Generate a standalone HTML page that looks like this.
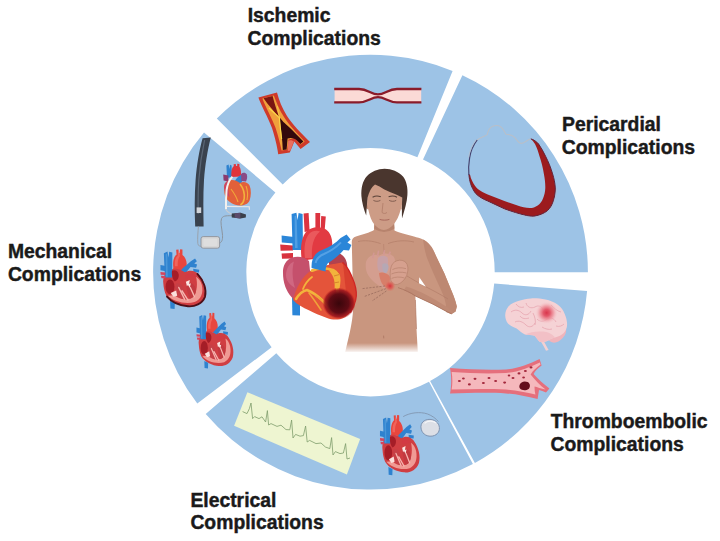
<!DOCTYPE html>
<html><head><meta charset="utf-8"><title>Complications</title>
<style>
html,body{margin:0;padding:0;background:#fff;}
body{width:720px;height:541px;overflow:hidden;font-family:"Liberation Sans",sans-serif;}
svg{display:block;}
text{font-family:"Liberation Sans",sans-serif;font-weight:700;font-size:19.35px;fill:#1a1a1a;stroke:#1a1a1a;stroke-width:.42px;}
</style></head><body>
<svg width="720" height="541" viewBox="0 0 720 541">
<rect width="720" height="541" fill="#fff"/>
<!-- RING -->
<g fill="#9dc3e6">
<path d="M462.4 75.2A217.4 217.4 0 0 1 587.9 272.2L494.7 272.2A124.2 124.2 0 0 0 423.0 159.6Z"/>
<path d="M587.1 291.1A217.4 217.4 0 0 1 474.9 462.9L430.1 381.1A124.2 124.2 0 0 0 494.2 283.5Z"/>
<path d="M472.9 464.0A217.4 217.4 0 0 1 205.7 414.0L276.3 353.2A124.2 124.2 0 0 0 429.0 381.8Z"/>
<path d="M197.3 403.6A217.4 217.4 0 0 1 204.0 132.5L275.4 192.4A124.2 124.2 0 0 0 271.6 347.3Z"/>
<path d="M216.8 118.5A217.4 217.4 0 0 1 452.6 70.9L417.4 157.2A124.2 124.2 0 0 0 282.7 184.4Z"/>
</g>
<!-- LABELS -->
<g id="labels">
<text x="247.7" y="22.4">Ischemic</text><text x="247.5" y="45.3">Complications</text>
<text x="562" y="130.6">Pericardial</text><text x="561.8" y="153.5">Complications</text>
<text x="7.9" y="258.2">Mechanical</text><text x="7.9" y="281.3">Complications</text>
<text x="190.4" y="506.5">Electrical</text><text x="190.4" y="529.4">Complications</text>
<text x="550.7" y="428.1">Thromboembolic</text><text x="550.5" y="451.4">Complications</text>
</g>
<!--ART-->
<defs>
<!-- cross-section heart, drawn in a 451x541 unit box -->
<g id="hx">
<path d="M138 180C132 125 146 95 163 82L160 46L178 44L180 70L188 70L190 42L208 44L208 86C228 100 243 130 240 160L228 215C200 196 170 192 136 200Z" fill="#e8463e"/>
<path d="M150 170C146 130 156 104 172 92L174 60L186 60L188 96C176 112 170 140 172 170Z" fill="#f2706a" opacity=".7"/>
<path d="M183 226C198 184 238 166 272 132L304 112L318 132L298 150L320 158L312 182L270 176C252 198 238 208 230 244Z" fill="#2f82cf"/>
<path d="M290 190L336 196L334 218L292 214Z" fill="#2f82cf"/>
<path d="M296 222L332 228L330 246L298 242Z" fill="#d23a4e"/>
<path d="M62 300C55 250 80 204 130 192C170 184 200 200 226 216C260 196 310 200 340 240C380 290 396 350 381 400C361 452 300 476 250 471C190 466 120 442 85 392C70 362 64 330 62 300Z" fill="#d03e42"/>
<path d="M66 72L94 60L101 104L107 62L131 66L130 255L74 255Z" fill="#2f82cf"/>
<path d="M80 80L92 74L96 250L82 250Z" fill="#5aa3e0" opacity=".6"/>
<path d="M40 160L82 168L82 208L40 200Z" fill="#2f82cf"/>
<path d="M40 214L78 218L78 236L42 234Z M44 242L78 244L78 260L48 260Z" fill="#d6445c"/>
<path d="M96 392C140 436 230 458 300 440C350 422 370 372 356 312C348 282 332 262 312 250C324 300 322 360 292 400C252 430 182 420 150 388Z" fill="#f09a94"/>
<ellipse cx="113" cy="325" rx="34" ry="56" fill="#a51d27"/>
<path d="M128 205C150 195 175 205 180 235C182 260 170 280 150 285C132 270 124 235 128 205Z" fill="#a51d27"/>
<path d="M232 300C262 280 300 300 310 340C316 380 292 410 262 416C250 380 240 340 232 300Z" fill="#c23a40"/>
<path d="M160 300C186 290 210 310 220 350C228 386 236 410 242 422C210 420 176 406 160 386C150 356 150 326 160 300Z" fill="#c64046"/>
<path d="M205 355L250 425M180 330L225 420M268 330L300 400" fill="none" stroke="#f6b6b0" stroke-width="11" stroke-linecap="round"/>
<path d="M234 286L264 274L259 304L272 299L264 332L250 312L242 320Z" fill="#fbe6e2"/>
<path d="M118 372L160 352L168 392L140 400Z" fill="#fbe0dc"/>
<path d="M230 240C250 225 290 225 315 245C300 250 260 255 235 262Z" fill="#d23a44"/>
<path d="M114 430L150 445L148 492L116 488Z" fill="#2f82cf"/>
</g>
<path id="hxrim" d="M322 228C374 282 394 350 380 400C360 452 300 476 250 471C195 466 128 442 90 398" fill="none" stroke="#4d1019" stroke-width="14" stroke-linecap="round"/>
</defs>
<!-- ISCHEMIC: stenosed vessel -->
<g id="stenosis">
<path d="M334.6 89H359C368 89 371 94.2 378 94.2C385 94.2 388 89 397 89H421.2V102.3H397C388 102.3 385 97.3 378 97.3C371 97.3 368 102.3 359 102.3H334.6Z" fill="#fbdad6"/>
<path d="M334.2 89H359C368 89 371 94.4 378 94.4C385 94.4 388 89 397 89H421.4M334.2 102.3H359C368 102.3 371 97.1 378 97.1C385 97.1 388 102.3 397 102.3H421.4" fill="none" stroke="#8a1b2a" stroke-width="2.3"/>
</g>
<!-- ISCHEMIC: plaque artery -->
<g id="plaque">
<path d="M258.4 97.4L277 92.4C279 100 282 108 287 116C292 124 300.5 132.5 310 142L300.6 149L294.3 141.4L289.8 152.4L278.2 154.2C277 145 275 138 272 128C268 117 261.3 106 258.4 97.4Z" fill="#cf3a2a"/>
<path d="M262.4 98.4L273.8 95.4C276.4 102 279.4 110 284 117C289 125 296.6 132.6 304.6 141.4L300.6 144.6L294.6 138L288.4 139.6L287.2 149.6L281.6 150.4C280.2 144 278.6 137 275.6 128C272.2 118.4 265.6 107.4 262.4 98.4Z" fill="#f0a03c"/>
<path d="M263.6 98.2L272.6 96C274.4 103 276.6 110.6 279.4 117.6C274 111.6 268 104.6 263.6 98.2Z" fill="#7a1512"/>
<path d="M279.6 117.4C281.5 119.5 283 121.5 284.6 123C288.5 126.5 294 131.5 303.4 141.6L300.4 144C298 141.4 296.4 139.8 294.2 138.8C291.5 137.6 289.6 138 287.6 138.6L286.6 149.4L282.8 150C282.6 145 282.2 140 281.6 135C281 129 280.2 123 279.6 117.4Z" fill="#33080c"/>
<path d="M288.2 140.8C290.4 139.6 292.4 140.2 293.8 141.6L290.4 150.6L287.8 151Z" fill="#e8705f"/>
<path d="M269 108C272.4 111.4 276 114.6 279.4 117.8C279.8 124 280.6 131 281.6 139" fill="none" stroke="#f8d648" stroke-width="1.2"/>
<path d="M277.4 106C278 110 278.8 114 279.6 117.6" fill="none" stroke="#f6c244" stroke-width="1"/>
</g>
<!-- PERICARDIAL -->
<g id="peri">
<path id="perio" d="M468.9 174.4C469.2 178 469.8 181 470.5 183.3C471.6 187 473.4 190.4 475.5 193.3C479 197 483 199 487.7 201L504.4 208.8C512 211.6 519 213.8 526.6 215.5C530 216.2 533 216.4 535 216C540 215 544 213.4 547.4 210.7C550.4 208 552.4 204.4 553.5 200.2C554.8 196 555.4 192 555.3 187.9C555 183 554 178.4 552.6 173.9C550.8 167.6 548.4 161.8 545.6 156.3C543.6 152 541.2 147.8 538.6 144C536.4 141.4 533.6 139.6 530.7 138.8C532.4 140.4 533.8 142.2 535 144C537 148 538.4 152 539.5 156.3C541.4 162 543 168 543.9 173.9C544.8 178.6 545.4 183.4 545.3 187.9C545.2 191.6 544.4 195.2 543 198.4C541.8 201.4 540 203.8 537.7 205.4C535.4 207 532.6 208 529.8 208C525.6 207.8 521.4 206.6 517.5 205.4L504.4 201L487.7 194.4C484 192.8 480.6 191.2 477.8 188.9C475.4 186.8 473.6 184 472.2 181C471.2 179 470.4 176.8 470 174.4Z" fill="#9c1b1e"/>
<path d="M468.9 174.4C469.2 178 469.8 181 470.5 183.3C471.6 187 473.4 190.4 475.5 193.3C479 197 483 199 487.7 201L504.4 208.8C512 211.6 519 213.8 526.6 215.5C530 216.2 533 216.4 535 216C540 215 544 213.4 547.4 210.7C550.4 208 552.4 204.4 553.5 200.2C554.8 196 555.4 192 555.3 187.9C555 183 554 178.4 552.6 173.9C550.8 167.6 548.4 161.8 545.6 156.3C543.6 152 541.2 147.8 538.6 144C536.4 141.4 533.6 139.6 530.7 138.8" fill="none" stroke="#62233a" stroke-width="1"/>
<path d="M474.6 194.2C478.4 198 482.6 200.2 487.2 202.2L504 210C511.6 212.8 518.8 215 526.4 216.7C530 217.4 533.2 217.6 535.4 217.2C540.6 216.2 544.8 214.4 548.2 211.6C551.4 208.8 553.6 205 554.7 200.6C556 196.2 556.6 192 556.5 187.8" fill="none" stroke="#b4bccb" stroke-width="0.8" opacity=".8"/>
<path d="M477.2 140C480 137.6 484 136.6 487.2 134.6C488 130.6 489.6 127.4 492.7 126.2C495.6 125.2 498.6 125.4 500.5 126.6C503.4 128.4 504 131.6 506 134.2C509.4 134.4 513 135.6 514.9 137.7C517 140 518.4 143.4 521.5 143.4C524.6 143.2 527.4 139.8 530.7 138.8" fill="none" stroke="#b9bfc8" stroke-width="1.1"/>
<path d="M477.2 140C473.4 145 470.6 151 469.6 158C468.6 164 468.4 170 468.9 175" fill="none" stroke="#464470" stroke-width="1.2"/>
<path d="M476.2 139.6C472.4 144.6 469.6 150.6 468.6 157.6" fill="none" stroke="#b9bfc8" stroke-width="0.7"/>
</g>
<!-- THROMBOEMBOLIC: brain -->
<defs>
<radialGradient id="stroke1" cx="0.5" cy="0.5" r="0.5"><stop offset="0" stop-color="#d9364c"/><stop offset="0.3" stop-color="#e35a6c"/><stop offset="0.6" stop-color="#ee929c" stop-opacity=".8"/><stop offset="1" stop-color="#f6d3d6" stop-opacity="0"/></radialGradient>
</defs>
<g id="brain">
<path d="M539.5 339C541.6 343 544.4 347.4 546 350.8L548.6 350C546.8 346.6 544.8 343.6 543.6 340.6Z" fill="#f3d0d2"/>
<path d="M543 330C545 336 548 341.6 553 342.6C558 343 563 339 565.4 334C567 330 566 326 563 324Z" fill="#f0b4bb"/>
<path d="M505.2 315.2C505.4 311.6 506.6 308.8 508.2 306.8C511 303.6 515 301.8 519 300.8C523 299.4 527 298.6 531 298.4C536 298.2 541 298.6 545.5 299.6C550 300.6 554 302.2 557.5 304.4C561 307 563.4 310.2 564.7 314C566.2 317.4 567.2 321 567.1 324.9C567 328 565.6 331 563.5 333.3C561 335.6 558 337 555 337.4C551.6 338.2 549 340 546 341.4C543.4 342.4 541.6 342.4 539.5 341.7C537.6 340 536.4 337.6 534.7 335.7C531.6 335 528 335.2 525 334.5C521.8 333 519.2 330.6 516.6 328.5C513.6 327.2 510.6 325.8 508.2 323.7C506.2 321.4 505.2 318.4 505.2 315.2Z" fill="#f5d2d5"/>
<path d="M525 334.5C530 332 537 331 543 331.6C548 332 552 334 555 337.4C551.6 338.2 549 340 546 341.4C543.4 342.4 541.6 342.4 539.5 341.7C537.6 340 536.4 337.6 534.7 335.7C531.6 335 528 335.2 525 334.5Z" fill="#f1bcc2" opacity=".8"/>
<g fill="none" stroke="#e6a3ad" stroke-width="0.75">
<path d="M511 312C515 309 519 310 522 313C525 316 529 315 531 311"/>
<path d="M515 322C519 320 523 322 526 325C529 328 533 327 535 323"/>
<path d="M526 303C527 307 531 309 535 307C538 305 542 306 543 310"/>
<path d="M537 319C540 322 544 322 547 319C550 317 554 318 556 322"/>
<path d="M551 305C554 308 557 311 561 312"/>
<path d="M520 316C522 319 526 319 529 318"/>
<path d="M542 327C545 329 549 330 552 329"/>
<path d="M516 304C518 307 521 308 524 307"/>
<path d="M533 313C535 317 536 321 535 325"/>
<path d="M556 326C559 327 562 326 564 324"/>
</g>
<circle cx="546.6" cy="312.8" r="11.5" fill="url(#stroke1)"/>
</g>
<!-- THROMBOEMBOLIC: vessel -->
<g id="vessel">
<path d="M450 368C470 369.6 490 370 506 369.4C518 368.6 529 364 539.6 359L541.6 365.6C538 368 535 371 533.6 374C538 379 543.6 384 549.4 388.4L546 392.4C543.6 391.6 541 390.6 539 390L537.6 399C527 396.6 516 394 506 393.4C490 392.4 470 392.8 450 393.6C451.6 386 451.6 376 450 368Z" fill="#e56f7c"/>
<path d="M451.6 372C470 373.4 490 373.8 506 373C518 372 529 367.6 539.8 362.4L540.6 364.6C536.6 367.6 532.6 371 530.6 374.4C535 380 540 385 545.6 389.6C541 388.4 537 387 534.6 386.4C534.4 389 534.8 392 535.4 394.6C526 392.4 516 390.2 506 389.6C490 388.8 470 389 451.6 389.6C452.6 384 452.6 378 451.6 372Z" fill="#f5b8bc"/>
<g fill="#a3283c">
<ellipse cx="459.4" cy="381" rx="1.5" ry="1.1"/><ellipse cx="463.4" cy="378.4" rx="1.4" ry="1"/><ellipse cx="469.4" cy="384.4" rx="1.5" ry="1.1"/><ellipse cx="475" cy="378.8" rx="1.5" ry="1.1"/><ellipse cx="483.4" cy="383" rx="1.5" ry="1.1"/><ellipse cx="489" cy="378" rx="1.5" ry="1.1"/><ellipse cx="495.6" cy="381" rx="1.5" ry="1.1"/><ellipse cx="504.6" cy="382.6" rx="1.5" ry="1.1"/><ellipse cx="513" cy="378" rx="1.5" ry="1.1"/><ellipse cx="519" cy="373.4" rx="1.5" ry="1.1"/><ellipse cx="525.4" cy="371" rx="1.5" ry="1.1"/><ellipse cx="531" cy="367.4" rx="1.5" ry="1.1"/><ellipse cx="523.6" cy="377.6" rx="1.4" ry="1"/><ellipse cx="509" cy="375.6" rx="1.3" ry="1"/>
</g>
<path d="M519.6 385C520.6 381.6 524.6 380.6 527.6 382C530.4 383.4 530.6 387 528.6 389C526 391 521.6 390.6 520 388.6C519.2 387.4 519.2 386.2 519.6 385Z" fill="#640d1c"/>
</g>
<!-- ELECTRICAL: ECG strip -->
<g id="ecg">
<path d="M247.4 392.3L360.1 439L346.9 474.6L234.1 425.8Z" fill="#eef5d1"/>
<path d="M242.6 411.6L247 413.6L249.4 408.6L251 403L252.6 418.6L254.6 416.6L259 418.6L262 416.8L265.6 422L267.4 410.6L268.6 425L271 423.6L277 426.4L281 425.2L286 429.6L289.8 429.8L291.6 420L293 438L295.6 434.4L300 436.2L303.4 435.6L305.6 426L307.2 442L309.6 440.4L316 443.6L321 443L325.4 447L329.8 448.6L331.6 437.6L333 455L335.4 451.6L340 453.6L343.4 453L345.6 443.6L347 459L350 458" fill="none" stroke="#7f9d6c" stroke-width="0.8"/>
</g>
<!-- ELECTRICAL: heart + pacemaker -->
<g id="pacer">
<path d="M403.2 416.6C410 412.6 420 411.4 427.6 414C432 415.6 436 418.6 438.4 421.6" fill="none" stroke="#8196b0" stroke-width="0.9"/>
<path d="M421 428C420.4 423 424 419.6 429 419.4C434.6 419.2 439 422.6 439.4 427.6C439.8 432.6 436 436 431 436.2C425.6 436.4 421.6 433 421 428Z" fill="#dcdfe6" stroke="#7e93b1" stroke-width="1"/>
<path d="M424.6 423.4C427 420.6 433 420.4 436 423" fill="none" stroke="#f4f5f8" stroke-width="1.2"/>
</g>
<use href="#hx" transform="translate(375.4 409.4) scale(0.1143 0.1337)"/>
<!-- MECHANICAL: cannula -->
<g id="cannula">
<path d="M202.6 138.2L210.8 137.4C207.6 150 205 165 204 180C203 196 203.4 212 203.6 226.4L195.2 226.6C194.6 212 194.4 196 195.6 180C196.8 165 199.2 150 202.6 138.2Z" fill="#39424e"/>
<path d="M204.6 140C202 152 199.8 166 198.8 180C198 192 198 204 198.2 214" fill="none" stroke="#5a6675" stroke-width="1.2"/>
<rect x="196.6" y="207.4" width="4.6" height="5.6" fill="#cfd3d8"/>
<path d="M198.4 226.6C198 232 197.4 238 197.8 243.4C198.2 246 200 246.6 201.6 246.4" fill="none" stroke="#9aa3ad" stroke-width="1"/>
</g>
<!-- MECHANICAL: controller + wire -->
<g id="controller">
<rect x="201" y="236.6" width="18.6" height="11.6" rx="2.2" fill="#d6d6d6" stroke="#8c9198" stroke-width="0.9"/>
<rect x="203.4" y="238.8" width="13.8" height="7.2" rx="1" fill="#dedede"/>
<path d="M219.6 243C222.6 242 222.8 238 222.4 234C222 229 220 222 221.6 218.4C223.4 215 228 216 232.4 215.6" fill="none" stroke="#8c959f" stroke-width="1"/>
<path d="M231.6 213.4L240.6 212.8L246 214.4L245.8 217.4L240.4 218.6L231.8 217.6Z" fill="#3a3f4a"/>
<path d="M234.6 213.2L240.4 212.8L240.4 218.4L234.8 217.8Z" fill="#5b4a6a"/>
</g>
<!-- MECHANICAL: small external heart w/ catheter -->
<g id="hsmall">
<path d="M226.4 165.6L228.6 164.6L229.4 169L230 164.8L231.6 165.4L232 177L227 178Z" fill="#2f82cf"/>
<path d="M223.2 174.6L228.4 175.4L228.4 181.4L223.6 180.6Z" fill="#8c3a6e"/>
<path d="M231.4 177C231 171 232 167.6 233.8 166L233.6 164.2L235.8 164L236 166L237.2 166L237.2 163.8L239.4 164L239.4 166.6C241 169 241.4 172.6 240.8 176.4Z" fill="#e0343c"/>
<path d="M234.2 183C235.6 178.4 238.6 176.4 241.6 174.6L244.6 176.6C243 179.6 241.6 181.6 240.8 184.6Z" fill="#2f82cf"/>
<path d="M241 174C243 172.2 245.6 172.4 246.8 174.6C247.6 177 247 179.6 246 181.4L241.4 181Z" fill="#8a4a86"/>
<path d="M224 188C223.6 183 227 180 231.6 180C235.6 180 238 181.6 240 183C243 181 247.6 181.6 249.6 185.6C251.4 190 251.2 196 249.6 200.6C248 204.4 243.6 205.8 239.6 205.6C233.6 205.2 228.2 202 225.6 197C224.2 194 224.2 191 224 188Z" fill="#e2603a"/>
<path d="M240 184C243.2 188 244.8 193 244.2 198.6C243.8 201.4 242.4 203.8 240.4 205" fill="none" stroke="#f2b23c" stroke-width="1.6"/>
<path d="M231 189C234 193 236.6 197 238 202M246 186C247.6 190 248 195 247 200" fill="none" stroke="#f2a83a" stroke-width="1.1"/>
<path d="M224.2 188C224.4 184 226 181.6 228.6 180.6C228 186 228.2 192 229.6 197.6C227 195 224.6 192 224.2 188Z" fill="#c8456a"/>
<path d="M232.4 176.6C229.6 179.6 227.4 184 226.6 190C226 197 225.8 203 226 209.2" fill="none" stroke="#f3f1ef" stroke-width="2"/>
<path d="M226 209.2C226.4 211 228.6 212.8 231.6 214" fill="none" stroke="#c9ccd2" stroke-width="1.2"/>
<path d="M226.4 206.4L249.2 206.8L249.4 209.8" fill="none" stroke="#ebe9e9" stroke-width="1.1"/>
</g>
<!-- MECHANICAL: two cross-section hearts -->
<use href="#hx" transform="translate(155.2 243.6) scale(0.131 0.133)"/>
<use href="#hxrim" transform="translate(155.2 243.6) scale(0.131 0.133)"/>
<use href="#hx" transform="translate(192.2 307.6) scale(0.1065 0.124)"/>
<!-- CENTER: man -->
<defs>
<linearGradient id="fadeb" x1="0" y1="0" x2="0" y2="1"><stop offset="0" stop-color="#fff" stop-opacity="0"/><stop offset="1" stop-color="#fff"/></linearGradient>
<radialGradient id="pain" cx="0.5" cy="0.5" r="0.5"><stop offset="0" stop-color="#d8323c"/><stop offset="0.5" stop-color="#dd5a52" stop-opacity=".8"/><stop offset="1" stop-color="#e07a68" stop-opacity="0"/></radialGradient>
</defs>
<g id="man">
<!-- torso + arm silhouette -->
<path d="M374.6 221L374 230C370 232.5 362 234.5 356 236.5C353 237.5 351.5 239 351.8 243L353.3 306C353 318 350.5 330 348 340L345.2 352L417.8 352L416.5 329L415.4 296L433 304.2L446 311.2L451.5 313.8L455.6 311.5L456.8 306.5C455.6 301 454 296.6 452 292L444.3 273.3L436 256C434 251 432.4 247.6 430 245C428 242.4 425.6 240.6 423 239.5C420 238 417 237.4 414 236.5C407 234.5 398 232.5 394.5 230.5L394 221Z" fill="#c9967f"/>
<!-- upper arm shading -->
<path d="M423 239.5C428 242 431.6 246 436 256L444.3 273.3L452 292C454 296.6 455.6 301 456.8 306.5L455.6 311.5L451.5 314.2L446 312C447 306 445 298 441 290C436 279 431 268 427 258C425 252 424 246 423 239.5Z" fill="#bd8872"/>
<!-- forearm shading -->
<path d="M415.4 296L433 304.2L446 311.2L451.5 313.8L453.6 312C446 306 437 300.6 428 295.8C420 291.6 412 288.4 406 286.6L404 290.6Z" fill="#bf8a74"/>
<path d="M407 276C412 279 418 282.6 425.8 286.8C432 290 440 294 448 299" fill="none" stroke="#b27c68" stroke-width="0.7"/>
<path d="M398 287.6C404 289.6 411 292.6 415.4 296L433 304.2L446 311.2L451.5 313.8" fill="none" stroke="#a8725e" stroke-width="0.8"/>
<!-- white gap between arm and chest -->
<path d="M419.3 277.3L425.8 286.8L418.9 283.2Z" fill="#fff"/>
<!-- neck shadow -->
<path d="M374.6 221L374.2 228.6C380 233 388 233 394.4 228.6L394 221Z" fill="#b7836d"/>
<!-- collar bones -->
<path d="M358 241.6C364 240 372 240.6 380.6 243.6M388 243.6C396 240.4 406 240 414 242" fill="none" stroke="#b5806b" stroke-width="0.8"/>
<path d="M383.6 244L384 252" fill="none" stroke="#b5806b" stroke-width="0.6"/>
<!-- chest translucent heart -->
<g opacity=".62">
<path d="M366 262C368 256 374 253.6 379.6 255.4C384 252.6 390 253 393.6 256.6C396 260 396 266 394 272C392 279 389 285 385.6 289C378 286 370 280 367 273C365.6 269 365.4 265 366 262Z" fill="#dba39a"/>
<path d="M378 258C381 255 385 255 387.6 257.6C388.6 262 388 268 386.4 272.6C383 273 380 272 378 270C377 266 377 262 378 258Z" fill="#c7a9c0"/>
<path d="M382.4 264C385 262.6 387.6 263.6 388.6 266C388.6 269.6 387.6 272 385.6 273.4C383.4 272.6 382 270 382.4 264Z" fill="#a9b4d6"/>
<path d="M372.6 258L374 252.6M377.6 256L378.6 250.6M383.6 254.6L384.6 250M388.6 255.6L390.4 251.6" fill="none" stroke="#d99aa0" stroke-width="1.6"/>
<path d="M379 273C382 271.6 386.6 272.6 389.6 276C390.6 280 389.6 284.6 386.6 288C383 286 380 282 379 273Z" fill="#e0705c"/>
</g>
<!-- hand -->
<path d="M391.4 266C392.6 262.6 396 260.4 399.6 260.2C403 260 406 261.6 407.2 264.6C408.4 268 408 272 406.6 275.6C405 279.6 401.6 283 397.6 284.4C394.6 285.2 392 283.6 391 281C389.6 276 390 270 391.4 266Z" fill="#d6a08e" stroke="#b27c68" stroke-width="0.6"/>
<path d="M392.4 269.6C396 267.6 401 267.2 406 268.6M391.4 274C395.6 272 401 271.6 406.6 273M391.6 278.4C395 276.8 400 276.6 404.6 278" fill="none" stroke="#b27c68" stroke-width="0.6"/>
<!-- pain spot + radiating lines -->
<circle cx="390" cy="286" r="5.6" fill="url(#pain)"/>
<path d="M386 288.6L364 296.6M385 286L362.6 288.6M386.4 291L372 301" fill="none" stroke="#8a5e52" stroke-width="0.6" stroke-dasharray="2.2 1.2"/>
<!-- belly / chest lines -->
<path d="M383.6 335.6L383.8 338.4" fill="none" stroke="#a9745f" stroke-width="0.8"/>
<path d="M415.4 300C415.8 310 416 320 416.5 329" fill="none" stroke="#b5806b" stroke-width="0.7"/>
<!-- fade at bottom -->
<rect x="343" y="343" width="78" height="10" fill="url(#fadeb)"/>
<!-- head: face -->
<path d="M367.2 196C366 192 366 186 368 182L401 182C403 186 403.2 192 402.4 196C402.8 201 402 206 400.6 210C399 216 396.6 221 393.6 224.4C391 227.4 387.6 229.8 383.8 230C380 229.8 377 227.6 374.4 224.6C371.6 221 369.6 216 368.4 210C367.4 206 367 201 367.2 196Z" fill="#cd9c86"/>
<!-- ears -->
<path d="M367.4 201.6C365.6 200.6 364.6 202.6 365 205C365.4 207.6 366.8 209.6 368.4 209.4Z M402.2 201.6C404 200.6 405 202.6 404.6 205C404.2 207.6 402.8 209.6 401.2 209.4Z" fill="#c48f79"/>
<!-- hair -->
<path d="M366.2 215.6C364 210 361.8 202 361.4 196C361 188 362.6 181 366.6 176.4C371 171.6 378 169 384.6 168.8C391.6 169 398.6 171.6 403 176.4C406.6 181 408 188 407.4 195C407 202 404.6 210 402 218.6C401.8 212 402 204 402.2 197.4C400 196 397.6 195 395.5 194.2C391.6 192.6 388 191 384.4 189.4C381 187.6 378 185.6 375 184.6C373 186 371.6 188 370.4 190C369.2 192.4 368.2 195 367.6 197.4C367 203 366.6 209 366.2 215.6Z" fill="#4a362e"/>
<!-- brows / eyes / nose / mouth -->
<path d="M372.6 197.2C375 195.8 378.4 195.8 380.8 196.8M388.6 196.8C391 195.8 394.6 195.8 397 197.2" fill="none" stroke="#5a4238" stroke-width="1.1"/>
<path d="M373.4 200.4C375.4 201.6 378.4 201.6 380.4 200.4M389.2 200.4C391.2 201.6 394.2 201.6 396.2 200.4" fill="none" stroke="#6e4e42" stroke-width="0.8"/>
<path d="M383 203L382 212.4C383 213.8 386 213.8 387 212.4" fill="none" stroke="#b07c68" stroke-width="0.8"/>
<path d="M379.6 219.4C382.4 220.4 386.6 220.4 389.4 219.4" fill="none" stroke="#a8685c" stroke-width="1"/>
</g>
<!-- CENTER: anatomical heart -->
<defs>
<radialGradient id="infarct" cx="0.5" cy="0.5" r="0.5"><stop offset="0" stop-color="#39060b"/><stop offset="0.6" stop-color="#5f0b14"/><stop offset="0.86" stop-color="#9a141d" stop-opacity=".85"/><stop offset="1" stop-color="#c8281f" stop-opacity="0"/></radialGradient>
</defs>
<g id="bigheart">
<!-- IVC -->
<path d="M292 297L300 299L300 315.6L292.4 315.2Z" fill="#2b86d8"/>
<!-- left side vessels -->
<path d="M281.6 235.4L294 237L294 243.6L281.8 242.4Z" fill="#2b86d8"/>
<path d="M280.2 244.6L293 245.4L293 250.6L280.6 250.8Z M281.6 253.4L293 253L293 258.4L282 258.8Z" fill="#d8323e"/>
<!-- SVC -->
<path d="M291.6 214L296.4 212.8L297.6 220L298.6 213L302.6 214L303 250L292.6 250Z" fill="#2b86d8"/>
<path d="M294.6 216L296.6 215.6L297.6 248L295 248Z" fill="#5fa8e8" opacity=".7"/>
<!-- aortic branches -->
<path d="M303.6 213.4L308.6 213L309.6 231L304.6 232Z M315.4 213L320.2 213L320 229L315.4 229.6Z M321.2 216L325.8 216.6L324.6 231L320.6 230Z" fill="#dc3440"/>
<!-- aorta -->
<path d="M302 262C300 250 301 238 306 232C311 226.6 320 226 326 229.6C331 233 333 240 332 248L328 262C320 258 310 258 302 262Z" fill="#e23a42"/>
<path d="M305 258C303.6 248 305 239 309 234C312 230.6 317 230 320 231.6C314 236 311 246 312 258Z" fill="#ee6668" opacity=".7"/>
<!-- right atrium -->
<path d="M283 273C282.6 266 286 260 292 257.6C298 255.6 305 257 309 261L312 290L300 304C294 301 288 294 285.4 287C283.6 282 283 277 283 273Z" fill="#c5506c"/>
<path d="M286 276C286 269 289 263.6 294 261.6C292 268 292 278 295 288C290 285 286.4 281 286 276Z" fill="#d4708a" opacity=".7"/>
<!-- left atrial appendage -->
<path d="M328 256C332 252.6 338 252 342 255C346 258 348 264 347 270L330 272Z" fill="#b2424e"/>
<!-- ventricles -->
<path d="M293 300C296 288 302 276 312 270C322 265 334 264 342.5 262.4C347 266 351 274 354.2 283C356.4 290 356.6 296 355.5 300C354 306 352 310 350.3 312.6C347.6 316 344 318.4 340 319.2C335 320 331 319.4 327 318C320 315.6 314 313 308.9 310.3C303 307.6 297 304.6 293 300Z" fill="#e4543a"/>
<path d="M342.5 262.4C347 266 351 274 354.2 283C356.4 290 356.6 296 355.5 300C354 306 352 310 350.3 312.6" fill="none" stroke="#cf2424" stroke-width="1.6"/>
<path d="M343 263C347 267 351 275 354 283C356 290 356.4 296 355.4 300C354 306 352 310 350.3 312.6C346 300 345 280 343 263Z" fill="#d43a2c" opacity=".8"/>
<!-- fat streaks -->
<path d="M296 299C299 294 303 291 307 290C312 292 318 296 323 301C327 305 330 309 333 313" fill="none" stroke="#f2b33c" stroke-width="2.6" stroke-linecap="round"/>
<path d="M312 270.6C318 268 326 268 333 270C337 272 338.6 276 338 281C337.6 285 337 289 337.6 293" fill="none" stroke="#f2b33c" stroke-width="2.8" stroke-linecap="round"/>
<path d="M303 289C305 284 308 280 312 277" fill="none" stroke="#f2b33c" stroke-width="1.8" stroke-linecap="round"/>
<path d="M329 270.6C333 269.6 337.6 271 339.6 274.6C341 278 340.6 283 339.6 288L334.6 288.6C335 283 334.6 277 329 270.6Z" fill="#f2b33c"/>
<path d="M334 276L339 274.6M333.6 283L339 282" fill="none" stroke="#d8842c" stroke-width="1"/>
<path d="M309 293C313 298 317 304 321 310M316 296C321 299 326 303 329 308" fill="none" stroke="#f0a23a" stroke-width="1.6" stroke-linecap="round"/>
<!-- pulmonary artery -->
<path d="M311.6 268C311 259 315 252.6 322 250C329 247.4 335.6 243.6 340.6 238L346.6 234.4L350.6 239.4L347.4 242.4L351.4 245L349 250.4L343.6 250C338.6 256 332.6 260 327.6 263.6C326 266 325.6 269 325.6 271.6Z" fill="#2b86d8"/>
<path d="M315.6 263C316.6 258 320 255.6 324 254C330 251.4 336 247.6 341 242.4" fill="none" stroke="#5fa8e8" stroke-width="2" opacity=".8"/>
<!-- infarct -->
<ellipse cx="339" cy="303.4" rx="16.6" ry="15.8" fill="url(#infarct)"/>
</g>
<!--/ART-->
</svg>
</body></html>
